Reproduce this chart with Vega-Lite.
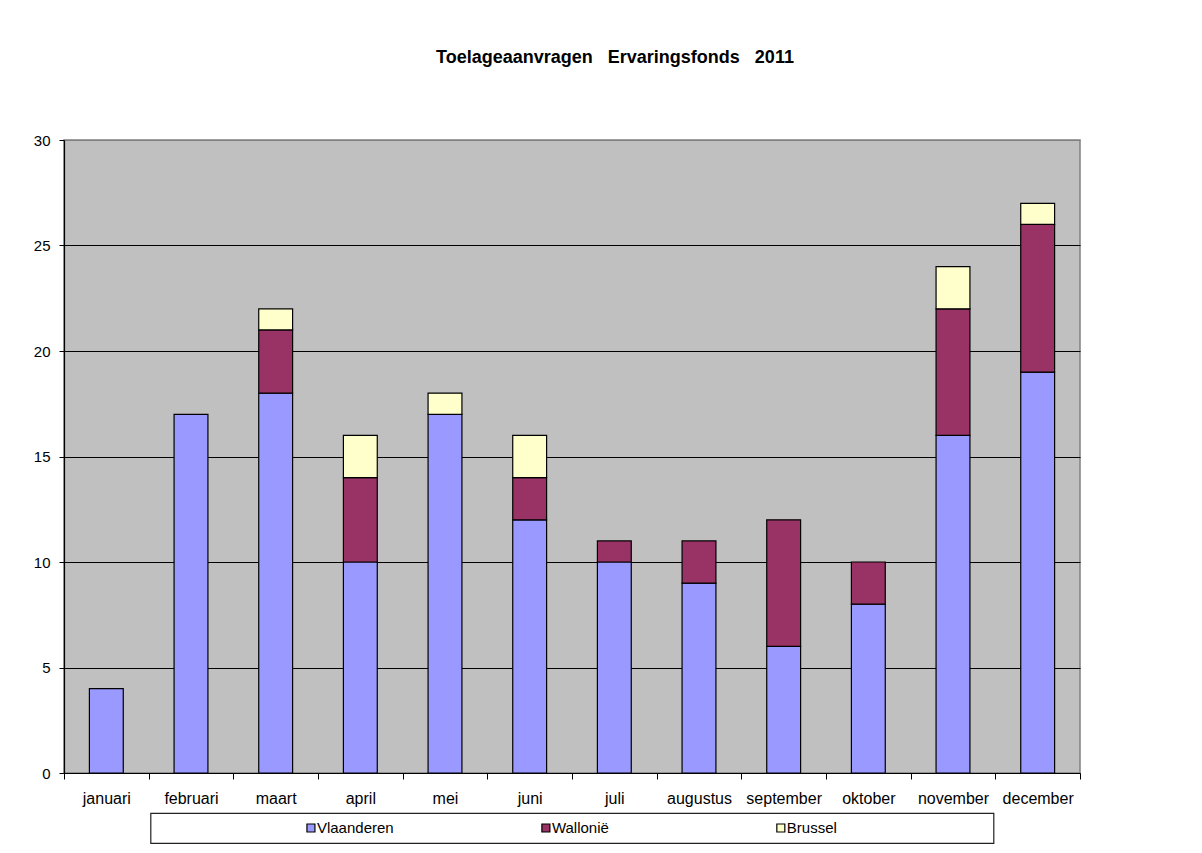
{
  "$schema": "https://vega.github.io/schema/vega-lite/v6.json",
  "padding": {"left": 32, "top": 48, "right": 10, "bottom": 8},
  "background": "white",
  "bounds": "flush",
  "center": true,
  "spacing": 40,
  "config": {"font": "Liberation Sans", "view": {"stroke": null}},
  "vconcat": [
    {
      "width": 1016,
      "height": 633,
      "title": {
        "text": "Toelageaanvragen\u00a0\u00a0 Ervaringsfonds\u00a0\u00a0 2011",
        "fontSize": 18,
        "fontWeight": "bold",
        "color": "black",
        "font": "Liberation Sans",
        "anchor": "middle",
        "dx": 43,
        "offset": 52,
        "baseline": "alphabetic"
      },
      "view": {"fill": "#C0C0C0", "stroke": "#808080", "strokeWidth": 1.5},
      "data": {
        "values": [
          {"month": "januari", "series": "Vlaanderen", "order": 1, "value": 4},
          {"month": "februari", "series": "Vlaanderen", "order": 1, "value": 17},
          {"month": "maart", "series": "Vlaanderen", "order": 1, "value": 18},
          {"month": "maart", "series": "Wallonië", "order": 2, "value": 3},
          {"month": "maart", "series": "Brussel", "order": 3, "value": 1},
          {"month": "april", "series": "Vlaanderen", "order": 1, "value": 10},
          {"month": "april", "series": "Wallonië", "order": 2, "value": 4},
          {"month": "april", "series": "Brussel", "order": 3, "value": 2},
          {"month": "mei", "series": "Vlaanderen", "order": 1, "value": 17},
          {"month": "mei", "series": "Brussel", "order": 3, "value": 1},
          {"month": "juni", "series": "Vlaanderen", "order": 1, "value": 12},
          {"month": "juni", "series": "Wallonië", "order": 2, "value": 2},
          {"month": "juni", "series": "Brussel", "order": 3, "value": 2},
          {"month": "juli", "series": "Vlaanderen", "order": 1, "value": 10},
          {"month": "juli", "series": "Wallonië", "order": 2, "value": 1},
          {"month": "augustus", "series": "Vlaanderen", "order": 1, "value": 9},
          {"month": "augustus", "series": "Wallonië", "order": 2, "value": 2},
          {"month": "september", "series": "Vlaanderen", "order": 1, "value": 6},
          {"month": "september", "series": "Wallonië", "order": 2, "value": 6},
          {"month": "oktober", "series": "Vlaanderen", "order": 1, "value": 8},
          {"month": "oktober", "series": "Wallonië", "order": 2, "value": 2},
          {"month": "november", "series": "Vlaanderen", "order": 1, "value": 16},
          {"month": "november", "series": "Wallonië", "order": 2, "value": 6},
          {"month": "november", "series": "Brussel", "order": 3, "value": 2},
          {"month": "december", "series": "Vlaanderen", "order": 1, "value": 19},
          {"month": "december", "series": "Wallonië", "order": 2, "value": 7},
          {"month": "december", "series": "Brussel", "order": 3, "value": 1}
        ]
      },
      "mark": {"type": "bar", "stroke": "black", "strokeWidth": 1.2, "width": {"band": 0.4}},
      "encoding": {
        "x": {
          "field": "month",
          "type": "nominal",
          "sort": ["januari", "februari", "maart", "april", "mei", "juni", "juli", "augustus", "september", "oktober", "november", "december"],
          "scale": {"paddingInner": 0, "paddingOuter": 0},
          "axis": {
            "title": null,
            "labelAngle": 0,
            "labelFontSize": 16,
            "labelColor": "black",
            "labelPadding": 11,
            "tickBand": "extent",
            "tickSize": 6,
            "tickColor": "black",
            "domainColor": "black",
            "domainWidth": 1.2,
            "grid": false
          }
        },
        "y": {
          "field": "value",
          "type": "quantitative",
          "stack": "zero",
          "scale": {"domain": [0, 30], "nice": false},
          "axis": {
            "title": null,
            "values": [0, 5, 10, 15, 20, 25, 30],
            "labelFontSize": 15,
            "labelColor": "black",
            "labelPadding": 9,
            "tickSize": 5,
            "tickColor": "black",
            "domainColor": "black",
            "domainWidth": 1.2,
            "grid": true,
            "gridColor": {"condition": {"test": "datum.value === 30", "value": "#808080"}, "value": "black"},
            "gridOpacity": 1,
            "gridWidth": 1.2
          }
        },
        "color": {
          "field": "series",
          "type": "nominal",
          "scale": {"domain": ["Vlaanderen", "Wallonië", "Brussel"], "range": ["#9999FF", "#993366", "#FFFFCC"]},
          "legend": null
        },
        "order": {"field": "order", "type": "quantitative"}
      }
    },
    {
      "width": 843,
      "height": 30,
      "view": {"fill": "white", "stroke": "#222222", "strokeWidth": 1.2},
      "data": {
        "values": [
          {"series": "Vlaanderen"},
          {"series": "Wallonië"},
          {"series": "Brussel"}
        ]
      },
      "encoding": {
        "x": {
          "field": "series",
          "type": "nominal",
          "sort": ["Vlaanderen", "Wallonië", "Brussel"],
          "scale": {"type": "point", "padding": 0.794, "align": 0.43},
          "axis": null
        }
      },
      "layer": [
        {
          "mark": {"type": "point", "shape": "square", "size": 64, "filled": true, "stroke": "black", "strokeWidth": 1.2, "opacity": 1},
          "encoding": {
            "fill": {
              "field": "series",
              "type": "nominal",
              "scale": {"domain": ["Vlaanderen", "Wallonië", "Brussel"], "range": ["#9999FF", "#993366", "#FFFFCC"]},
              "legend": null
            }
          }
        },
        {
          "mark": {"type": "text", "align": "left", "baseline": "middle", "dx": 6, "fontSize": 15, "color": "black"},
          "encoding": {"text": {"field": "series", "type": "nominal"}}
        }
      ]
    }
  ]
}
